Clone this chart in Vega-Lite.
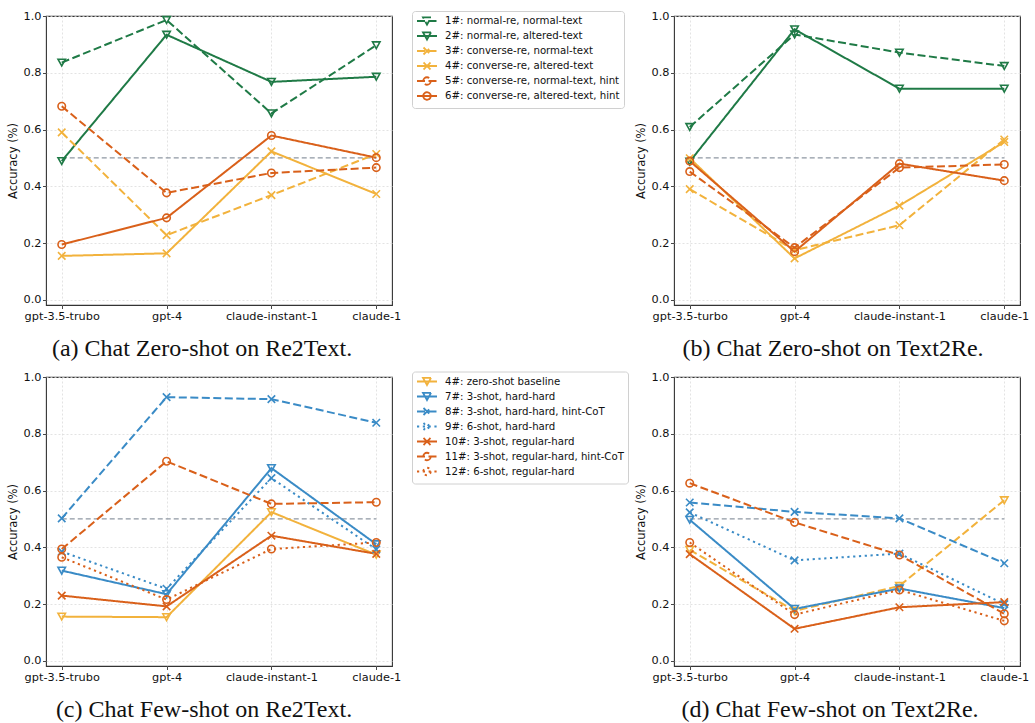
{
  "$schema": "https://vega.github.io/schema/vega-lite/v6.json",
  "padding": {"left": 6, "top": 9, "right": 5, "bottom": 5},
  "datasets": {
    "rows": [
      {"panel": "a", "model": "gpt-3.5-trubo", "series": "1#: normal-re, normal-text", "acc": 0.836},
      {"panel": "a", "model": "gpt-4", "series": "1#: normal-re, normal-text", "acc": 0.986},
      {"panel": "a", "model": "claude-instant-1", "series": "1#: normal-re, normal-text", "acc": 0.657},
      {"panel": "a", "model": "claude-1", "series": "1#: normal-re, normal-text", "acc": 0.897},
      {"panel": "a", "model": "gpt-3.5-trubo", "series": "2#: normal-re, altered-text", "acc": 0.489},
      {"panel": "a", "model": "gpt-4", "series": "2#: normal-re, altered-text", "acc": 0.934},
      {"panel": "a", "model": "claude-instant-1", "series": "2#: normal-re, altered-text", "acc": 0.768},
      {"panel": "a", "model": "claude-1", "series": "2#: normal-re, altered-text", "acc": 0.786},
      {"panel": "a", "model": "gpt-3.5-trubo", "series": "3#: converse-re, normal-text", "acc": 0.590},
      {"panel": "a", "model": "gpt-4", "series": "3#: converse-re, normal-text", "acc": 0.228},
      {"panel": "a", "model": "claude-instant-1", "series": "3#: converse-re, normal-text", "acc": 0.369},
      {"panel": "a", "model": "claude-1", "series": "3#: converse-re, normal-text", "acc": 0.514},
      {"panel": "a", "model": "gpt-3.5-trubo", "series": "4#: converse-re, altered-text", "acc": 0.155},
      {"panel": "a", "model": "gpt-4", "series": "4#: converse-re, altered-text", "acc": 0.164},
      {"panel": "a", "model": "claude-instant-1", "series": "4#: converse-re, altered-text", "acc": 0.523},
      {"panel": "a", "model": "claude-1", "series": "4#: converse-re, altered-text", "acc": 0.373},
      {"panel": "a", "model": "gpt-3.5-trubo", "series": "5#: converse-re, normal-text, hint", "acc": 0.682},
      {"panel": "a", "model": "gpt-4", "series": "5#: converse-re, normal-text, hint", "acc": 0.377},
      {"panel": "a", "model": "claude-instant-1", "series": "5#: converse-re, normal-text, hint", "acc": 0.447},
      {"panel": "a", "model": "claude-1", "series": "5#: converse-re, normal-text, hint", "acc": 0.466},
      {"panel": "a", "model": "gpt-3.5-trubo", "series": "6#: converse-re, altered-text, hint", "acc": 0.195},
      {"panel": "a", "model": "gpt-4", "series": "6#: converse-re, altered-text, hint", "acc": 0.289},
      {"panel": "a", "model": "claude-instant-1", "series": "6#: converse-re, altered-text, hint", "acc": 0.579},
      {"panel": "a", "model": "claude-1", "series": "6#: converse-re, altered-text, hint", "acc": 0.501},

      {"panel": "b", "model": "gpt-3.5-turbo", "series": "1#: normal-re, normal-text", "acc": 0.609},
      {"panel": "b", "model": "gpt-4", "series": "1#: normal-re, normal-text", "acc": 0.935},
      {"panel": "b", "model": "claude-instant-1", "series": "1#: normal-re, normal-text", "acc": 0.871},
      {"panel": "b", "model": "claude-1", "series": "1#: normal-re, normal-text", "acc": 0.824},
      {"panel": "b", "model": "gpt-3.5-turbo", "series": "2#: normal-re, altered-text", "acc": 0.487},
      {"panel": "b", "model": "gpt-4", "series": "2#: normal-re, altered-text", "acc": 0.953},
      {"panel": "b", "model": "claude-instant-1", "series": "2#: normal-re, altered-text", "acc": 0.744},
      {"panel": "b", "model": "claude-1", "series": "2#: normal-re, altered-text", "acc": 0.744},
      {"panel": "b", "model": "gpt-3.5-turbo", "series": "3#: converse-re, normal-text", "acc": 0.390},
      {"panel": "b", "model": "gpt-4", "series": "3#: converse-re, normal-text", "acc": 0.175},
      {"panel": "b", "model": "claude-instant-1", "series": "3#: converse-re, normal-text", "acc": 0.263},
      {"panel": "b", "model": "claude-1", "series": "3#: converse-re, normal-text", "acc": 0.565},
      {"panel": "b", "model": "gpt-3.5-turbo", "series": "4#: converse-re, altered-text", "acc": 0.499},
      {"panel": "b", "model": "gpt-4", "series": "4#: converse-re, altered-text", "acc": 0.146},
      {"panel": "b", "model": "claude-instant-1", "series": "4#: converse-re, altered-text", "acc": 0.332},
      {"panel": "b", "model": "claude-1", "series": "4#: converse-re, altered-text", "acc": 0.556},
      {"panel": "b", "model": "gpt-3.5-turbo", "series": "5#: converse-re, normal-text, hint", "acc": 0.452},
      {"panel": "b", "model": "gpt-4", "series": "5#: converse-re, normal-text, hint", "acc": 0.184},
      {"panel": "b", "model": "claude-instant-1", "series": "5#: converse-re, normal-text, hint", "acc": 0.466},
      {"panel": "b", "model": "claude-1", "series": "5#: converse-re, normal-text, hint", "acc": 0.477},
      {"panel": "b", "model": "gpt-3.5-turbo", "series": "6#: converse-re, altered-text, hint", "acc": 0.489},
      {"panel": "b", "model": "gpt-4", "series": "6#: converse-re, altered-text, hint", "acc": 0.170},
      {"panel": "b", "model": "claude-instant-1", "series": "6#: converse-re, altered-text, hint", "acc": 0.480},
      {"panel": "b", "model": "claude-1", "series": "6#: converse-re, altered-text, hint", "acc": 0.420},

      {"panel": "c", "model": "gpt-3.5-trubo", "series": "4#: zero-shot baseline", "acc": 0.156},
      {"panel": "c", "model": "gpt-4", "series": "4#: zero-shot baseline", "acc": 0.154},
      {"panel": "c", "model": "claude-instant-1", "series": "4#: zero-shot baseline", "acc": 0.524},
      {"panel": "c", "model": "claude-1", "series": "4#: zero-shot baseline", "acc": 0.374},
      {"panel": "c", "model": "gpt-3.5-trubo", "series": "7#: 3-shot, hard-hard", "acc": 0.318},
      {"panel": "c", "model": "gpt-4", "series": "7#: 3-shot, hard-hard", "acc": 0.235},
      {"panel": "c", "model": "claude-instant-1", "series": "7#: 3-shot, hard-hard", "acc": 0.679},
      {"panel": "c", "model": "claude-1", "series": "7#: 3-shot, hard-hard", "acc": 0.411},
      {"panel": "c", "model": "gpt-3.5-trubo", "series": "8#: 3-shot, hard-hard, hint-CoT", "acc": 0.502},
      {"panel": "c", "model": "gpt-4", "series": "8#: 3-shot, hard-hard, hint-CoT", "acc": 0.929},
      {"panel": "c", "model": "claude-instant-1", "series": "8#: 3-shot, hard-hard, hint-CoT", "acc": 0.922},
      {"panel": "c", "model": "claude-1", "series": "8#: 3-shot, hard-hard, hint-CoT", "acc": 0.839},
      {"panel": "c", "model": "gpt-3.5-trubo", "series": "9#: 6-shot, hard-hard", "acc": 0.385},
      {"panel": "c", "model": "gpt-4", "series": "9#: 6-shot, hard-hard", "acc": 0.254},
      {"panel": "c", "model": "claude-instant-1", "series": "9#: 6-shot, hard-hard", "acc": 0.644},
      {"panel": "c", "model": "claude-1", "series": "9#: 6-shot, hard-hard", "acc": 0.393},
      {"panel": "c", "model": "gpt-3.5-trubo", "series": "10#: 3-shot, regular-hard", "acc": 0.230},
      {"panel": "c", "model": "gpt-4", "series": "10#: 3-shot, regular-hard", "acc": 0.192},
      {"panel": "c", "model": "claude-instant-1", "series": "10#: 3-shot, regular-hard", "acc": 0.441},
      {"panel": "c", "model": "claude-1", "series": "10#: 3-shot, regular-hard", "acc": 0.377},
      {"panel": "c", "model": "gpt-3.5-trubo", "series": "11#: 3-shot, regular-hard, hint-CoT", "acc": 0.394},
      {"panel": "c", "model": "gpt-4", "series": "11#: 3-shot, regular-hard, hint-CoT", "acc": 0.703},
      {"panel": "c", "model": "claude-instant-1", "series": "11#: 3-shot, regular-hard, hint-CoT", "acc": 0.553},
      {"panel": "c", "model": "claude-1", "series": "11#: 3-shot, regular-hard, hint-CoT", "acc": 0.559},
      {"panel": "c", "model": "gpt-3.5-trubo", "series": "12#: 6-shot, regular-hard", "acc": 0.365},
      {"panel": "c", "model": "gpt-4", "series": "12#: 6-shot, regular-hard", "acc": 0.216},
      {"panel": "c", "model": "claude-instant-1", "series": "12#: 6-shot, regular-hard", "acc": 0.394},
      {"panel": "c", "model": "claude-1", "series": "12#: 6-shot, regular-hard", "acc": 0.417},

      {"panel": "d", "model": "gpt-3.5-turbo", "series": "4#: zero-shot baseline", "acc": 0.391},
      {"panel": "d", "model": "gpt-4", "series": "4#: zero-shot baseline", "acc": 0.176},
      {"panel": "d", "model": "claude-instant-1", "series": "4#: zero-shot baseline", "acc": 0.264},
      {"panel": "d", "model": "claude-1", "series": "4#: zero-shot baseline", "acc": 0.566},
      {"panel": "d", "model": "gpt-3.5-turbo", "series": "7#: 3-shot, hard-hard", "acc": 0.497},
      {"panel": "d", "model": "gpt-4", "series": "7#: 3-shot, hard-hard", "acc": 0.183},
      {"panel": "d", "model": "claude-instant-1", "series": "7#: 3-shot, hard-hard", "acc": 0.255},
      {"panel": "d", "model": "claude-1", "series": "7#: 3-shot, hard-hard", "acc": 0.186},
      {"panel": "d", "model": "gpt-3.5-turbo", "series": "8#: 3-shot, hard-hard, hint-CoT", "acc": 0.558},
      {"panel": "d", "model": "gpt-4", "series": "8#: 3-shot, hard-hard, hint-CoT", "acc": 0.525},
      {"panel": "d", "model": "claude-instant-1", "series": "8#: 3-shot, hard-hard, hint-CoT", "acc": 0.502},
      {"panel": "d", "model": "claude-1", "series": "8#: 3-shot, hard-hard, hint-CoT", "acc": 0.344},
      {"panel": "d", "model": "gpt-3.5-turbo", "series": "9#: 6-shot, hard-hard", "acc": 0.523},
      {"panel": "d", "model": "gpt-4", "series": "9#: 6-shot, hard-hard", "acc": 0.354},
      {"panel": "d", "model": "claude-instant-1", "series": "9#: 6-shot, hard-hard", "acc": 0.378},
      {"panel": "d", "model": "claude-1", "series": "9#: 6-shot, hard-hard", "acc": 0.200},
      {"panel": "d", "model": "gpt-3.5-turbo", "series": "10#: 3-shot, regular-hard", "acc": 0.376},
      {"panel": "d", "model": "gpt-4", "series": "10#: 3-shot, regular-hard", "acc": 0.113},
      {"panel": "d", "model": "claude-instant-1", "series": "10#: 3-shot, regular-hard", "acc": 0.189},
      {"panel": "d", "model": "claude-1", "series": "10#: 3-shot, regular-hard", "acc": 0.207},
      {"panel": "d", "model": "gpt-3.5-turbo", "series": "11#: 3-shot, regular-hard, hint-CoT", "acc": 0.626},
      {"panel": "d", "model": "gpt-4", "series": "11#: 3-shot, regular-hard, hint-CoT", "acc": 0.488},
      {"panel": "d", "model": "claude-instant-1", "series": "11#: 3-shot, regular-hard, hint-CoT", "acc": 0.373},
      {"panel": "d", "model": "claude-1", "series": "11#: 3-shot, regular-hard, hint-CoT", "acc": 0.166},
      {"panel": "d", "model": "gpt-3.5-turbo", "series": "12#: 6-shot, regular-hard", "acc": 0.417},
      {"panel": "d", "model": "gpt-4", "series": "12#: 6-shot, regular-hard", "acc": 0.163},
      {"panel": "d", "model": "claude-instant-1", "series": "12#: 6-shot, regular-hard", "acc": 0.250},
      {"panel": "d", "model": "claude-1", "series": "12#: 6-shot, regular-hard", "acc": 0.141}
    ]
  },
  "columns": 2,
  "spacing": {"row": 72, "column": 282},
  "bounds": "flush",
  "resolve": {
    "scale": {"x": "independent", "y": "independent", "color": "independent", "stroke": "independent", "strokeDash": "independent", "shape": "independent"},
    "legend": {"color": "independent", "stroke": "independent", "strokeDash": "independent", "shape": "independent"}
  },
  "concat": [
    {
      "width": 346, "height": 289,
      "title": {"text": "(a) Chat Zero-shot on Re2Text.", "dx": -17},
      "data": {"name": "rows"},
      "encoding": {
        "x": {"field": "model", "type": "ordinal", "sort": null, "scale": {"type": "point", "padding": 0.15, "domain": ["gpt-3.5-trubo", "gpt-4", "claude-instant-1", "claude-1"]}, "axis": {"title": null}},
        "y": {"field": "acc", "type": "quantitative", "scale": {"domain": [-0.018, 1.0], "nice": false, "zero": false}, "axis": {"title": "Accuracy (%)", "values": [0, 0.2, 0.4, 0.6, 0.8, 1.0], "format": ".1f"}}
      },
      "layer": [
        {"data": {"values": [{"ref": 0.5}]}, "mark": {"type": "rule", "color": "#8f98a3", "strokeDash": [5, 3], "strokeWidth": 1.2},
         "encoding": {"x": {"datum": "gpt-3.5-trubo"}, "x2": {"datum": "claude-1"}, "y": {"field": "ref", "type": "quantitative", "axis": {"title": "Accuracy (%)", "values": [0, 0.2, 0.4, 0.6, 0.8, 1.0], "format": ".1f"}}}},
        {"transform": [{"filter": "datum.panel === 'a'"}], "mark": {"type": "line", "strokeWidth": 2},
         "encoding": {
           "color": {"field": "series", "type": "nominal",
             "scale": {"domain": ["1#: normal-re, normal-text", "2#: normal-re, altered-text", "3#: converse-re, normal-text", "4#: converse-re, altered-text", "5#: converse-re, normal-text, hint", "6#: converse-re, altered-text, hint"],
                       "range": ["#1f7a46", "#1f7a46", "#f2b23c", "#f2b23c", "#d9601a", "#d9601a"]},
             "legend": {"orient": "none", "legendX": 366, "legendY": -5, "title": null, "symbolSize": 100, "rowPadding": -1,
               "encode": {"symbols": {"update": {"fill": {"value": "transparent"}, "shape": {"signal": "test(regexp('^(1|2|7)#|zero-shot'), datum.value) ? 'M-1,0H3M0.2,-0.72H1.8L1,0.72Z' : test(regexp('^(3|4|8|9|10)#'), datum.value) ? 'M-1,0H3M0.3,-0.7L1.7,0.7M0.3,0.7L1.7,-0.7' : 'M-1,0H3M1.75,0A0.75,0.75,0,1,1,0.25,0A0.75,0.75,0,1,1,1.75,0Z'"}}}}}},
           "strokeDash": {"field": "series", "type": "nominal",
             "scale": {"domain": ["1#: normal-re, normal-text", "2#: normal-re, altered-text", "3#: converse-re, normal-text", "4#: converse-re, altered-text", "5#: converse-re, normal-text, hint", "6#: converse-re, altered-text, hint"],
                       "range": [[8, 3.5], [1, 0], [8, 3.5], [1, 0], [8, 3.5], [1, 0]]},
             "legend": {"orient": "none", "legendX": 366, "legendY": -5, "title": null, "symbolSize": 100, "rowPadding": -1,
               "encode": {"symbols": {"update": {"fill": {"value": "transparent"}, "shape": {"signal": "test(regexp('^(1|2|7)#|zero-shot'), datum.value) ? 'M-1,0H3M0.2,-0.72H1.8L1,0.72Z' : test(regexp('^(3|4|8|9|10)#'), datum.value) ? 'M-1,0H3M0.3,-0.7L1.7,0.7M0.3,0.7L1.7,-0.7' : 'M-1,0H3M1.75,0A0.75,0.75,0,1,1,0.25,0A0.75,0.75,0,1,1,1.75,0Z'"}}}}}}
         }},
        {"transform": [{"filter": "datum.panel === 'a'"}], "mark": {"type": "point", "filled": false, "size": 56, "strokeWidth": 1.6, "opacity": 1},
         "encoding": {
           "stroke": {"field": "series", "type": "nominal", "legend": null,
             "scale": {"domain": ["6#: converse-re, altered-text, hint", "5#: converse-re, normal-text, hint", "4#: converse-re, altered-text", "3#: converse-re, normal-text", "2#: normal-re, altered-text", "1#: normal-re, normal-text"],
                       "range": ["#d9601a", "#d9601a", "#f2b23c", "#f2b23c", "#1f7a46", "#1f7a46"]}},
           "shape": {"field": "series", "type": "nominal", "legend": null,
             "scale": {"domain": ["6#: converse-re, altered-text, hint", "5#: converse-re, normal-text, hint", "4#: converse-re, altered-text", "3#: converse-re, normal-text", "2#: normal-re, altered-text", "1#: normal-re, normal-text"],
                       "range": ["M1,0A1,1,0,1,1,-1,0A1,1,0,1,1,1,0Z", "M1,0A1,1,0,1,1,-1,0A1,1,0,1,1,1,0Z", "M-1,-1L1,1M-1,1L1,-1", "M-1,-1L1,1M-1,1L1,-1", "M-1,-0.9L1,-0.9L0,0.9Z", "M-1,-0.9L1,-0.9L0,0.9Z"]}}
         }}
      ]
    },
    {
      "width": 346, "height": 289,
      "title": {"text": "(b) Chat Zero-shot on Text2Re.", "dx": -14},
      "data": {"name": "rows"},
      "encoding": {
        "x": {"field": "model", "type": "ordinal", "sort": null, "scale": {"type": "point", "padding": 0.15, "domain": ["gpt-3.5-turbo", "gpt-4", "claude-instant-1", "claude-1"]}, "axis": {"title": null}},
        "y": {"field": "acc", "type": "quantitative", "scale": {"domain": [-0.018, 1.0], "nice": false, "zero": false}, "axis": {"title": "Accuracy (%)", "values": [0, 0.2, 0.4, 0.6, 0.8, 1.0], "format": ".1f"}}
      },
      "layer": [
        {"data": {"values": [{"ref": 0.5}]}, "mark": {"type": "rule", "color": "#8f98a3", "strokeDash": [5, 3], "strokeWidth": 1.2},
         "encoding": {"x": {"datum": "gpt-3.5-turbo"}, "x2": {"datum": "claude-1"}, "y": {"field": "ref", "type": "quantitative", "axis": {"title": "Accuracy (%)", "values": [0, 0.2, 0.4, 0.6, 0.8, 1.0], "format": ".1f"}}}},
        {"transform": [{"filter": "datum.panel === 'b'"}], "mark": {"type": "line", "strokeWidth": 2},
         "encoding": {
           "color": {"field": "series", "type": "nominal", "legend": null,
             "scale": {"domain": ["1#: normal-re, normal-text", "2#: normal-re, altered-text", "3#: converse-re, normal-text", "4#: converse-re, altered-text", "5#: converse-re, normal-text, hint", "6#: converse-re, altered-text, hint"],
                       "range": ["#1f7a46", "#1f7a46", "#f2b23c", "#f2b23c", "#d9601a", "#d9601a"]}},
           "strokeDash": {"field": "series", "type": "nominal", "legend": null,
             "scale": {"domain": ["1#: normal-re, normal-text", "2#: normal-re, altered-text", "3#: converse-re, normal-text", "4#: converse-re, altered-text", "5#: converse-re, normal-text, hint", "6#: converse-re, altered-text, hint"],
                       "range": [[8, 3.5], [1, 0], [8, 3.5], [1, 0], [8, 3.5], [1, 0]]}}
         }},
        {"transform": [{"filter": "datum.panel === 'b'"}], "mark": {"type": "point", "filled": false, "size": 56, "strokeWidth": 1.6, "opacity": 1},
         "encoding": {
           "stroke": {"field": "series", "type": "nominal", "legend": null,
             "scale": {"domain": ["6#: converse-re, altered-text, hint", "5#: converse-re, normal-text, hint", "4#: converse-re, altered-text", "3#: converse-re, normal-text", "2#: normal-re, altered-text", "1#: normal-re, normal-text"],
                       "range": ["#d9601a", "#d9601a", "#f2b23c", "#f2b23c", "#1f7a46", "#1f7a46"]}},
           "shape": {"field": "series", "type": "nominal", "legend": null,
             "scale": {"domain": ["6#: converse-re, altered-text, hint", "5#: converse-re, normal-text, hint", "4#: converse-re, altered-text", "3#: converse-re, normal-text", "2#: normal-re, altered-text", "1#: normal-re, normal-text"],
                       "range": ["M1,0A1,1,0,1,1,-1,0A1,1,0,1,1,1,0Z", "M1,0A1,1,0,1,1,-1,0A1,1,0,1,1,1,0Z", "M-1,-1L1,1M-1,1L1,-1", "M-1,-1L1,1M-1,1L1,-1", "M-1,-0.9L1,-0.9L0,0.9Z", "M-1,-0.9L1,-0.9L0,0.9Z"]}}
         }}
      ]
    },
    {
      "width": 346, "height": 289,
      "title": {"text": "(c) Chat Few-shot on Re2Text.", "dx": -15},
      "data": {"name": "rows"},
      "encoding": {
        "x": {"field": "model", "type": "ordinal", "sort": null, "scale": {"type": "point", "padding": 0.15, "domain": ["gpt-3.5-trubo", "gpt-4", "claude-instant-1", "claude-1"]}, "axis": {"title": null}},
        "y": {"field": "acc", "type": "quantitative", "scale": {"domain": [-0.018, 1.0], "nice": false, "zero": false}, "axis": {"title": "Accuracy (%)", "values": [0, 0.2, 0.4, 0.6, 0.8, 1.0], "format": ".1f"}}
      },
      "layer": [
        {"data": {"values": [{"ref": 0.5}]}, "mark": {"type": "rule", "color": "#8f98a3", "strokeDash": [5, 3], "strokeWidth": 1.2},
         "encoding": {"x": {"datum": "gpt-3.5-trubo"}, "x2": {"datum": "claude-1"}, "y": {"field": "ref", "type": "quantitative", "axis": {"title": "Accuracy (%)", "values": [0, 0.2, 0.4, 0.6, 0.8, 1.0], "format": ".1f"}}}},
        {"transform": [{"filter": "datum.panel === 'c'"}], "mark": {"type": "line", "strokeWidth": 2},
         "encoding": {
           "color": {"field": "series", "type": "nominal",
             "scale": {"domain": ["4#: zero-shot baseline", "7#: 3-shot, hard-hard", "8#: 3-shot, hard-hard, hint-CoT", "9#: 6-shot, hard-hard", "10#: 3-shot, regular-hard", "11#: 3-shot, regular-hard, hint-CoT", "12#: 6-shot, regular-hard"],
                       "range": ["#f2b23c", "#3a8bc6", "#3a8bc6", "#3a8bc6", "#d9601a", "#d9601a", "#d9601a"]},
             "legend": {"orient": "none", "legendX": 366, "legendY": -5.5, "title": null, "symbolSize": 100, "rowPadding": -1,
               "encode": {"symbols": {"update": {"fill": {"value": "transparent"}, "shape": {"signal": "test(regexp('^(1|2|7)#|zero-shot'), datum.value) ? 'M-1,0H3M0.2,-0.72H1.8L1,0.72Z' : test(regexp('^(3|4|8|9|10)#'), datum.value) ? 'M-1,0H3M0.3,-0.7L1.7,0.7M0.3,0.7L1.7,-0.7' : 'M-1,0H3M1.75,0A0.75,0.75,0,1,1,0.25,0A0.75,0.75,0,1,1,1.75,0Z'"}}}}}},
           "strokeDash": {"field": "series", "type": "nominal",
             "scale": {"domain": ["4#: zero-shot baseline", "7#: 3-shot, hard-hard", "8#: 3-shot, hard-hard, hint-CoT", "9#: 6-shot, hard-hard", "10#: 3-shot, regular-hard", "11#: 3-shot, regular-hard, hint-CoT", "12#: 6-shot, regular-hard"],
                       "range": [[1, 0], [1, 0], [8, 3.5], [2.2, 3.6], [1, 0], [8, 3.5], [2.2, 3.6]]},
             "legend": {"orient": "none", "legendX": 366, "legendY": -5.5, "title": null, "symbolSize": 100, "rowPadding": -1,
               "encode": {"symbols": {"update": {"fill": {"value": "transparent"}, "shape": {"signal": "test(regexp('^(1|2|7)#|zero-shot'), datum.value) ? 'M-1,0H3M0.2,-0.72H1.8L1,0.72Z' : test(regexp('^(3|4|8|9|10)#'), datum.value) ? 'M-1,0H3M0.3,-0.7L1.7,0.7M0.3,0.7L1.7,-0.7' : 'M-1,0H3M1.75,0A0.75,0.75,0,1,1,0.25,0A0.75,0.75,0,1,1,1.75,0Z'"}}}}}}
         }},
        {"transform": [{"filter": "datum.panel === 'c'"}], "mark": {"type": "point", "filled": false, "size": 56, "strokeWidth": 1.6, "opacity": 1},
         "encoding": {
           "stroke": {"field": "series", "type": "nominal", "legend": null,
             "scale": {"domain": ["12#: 6-shot, regular-hard", "11#: 3-shot, regular-hard, hint-CoT", "10#: 3-shot, regular-hard", "9#: 6-shot, hard-hard", "8#: 3-shot, hard-hard, hint-CoT", "7#: 3-shot, hard-hard", "4#: zero-shot baseline"],
                       "range": ["#d9601a", "#d9601a", "#d9601a", "#3a8bc6", "#3a8bc6", "#3a8bc6", "#f2b23c"]}},
           "shape": {"field": "series", "type": "nominal", "legend": null,
             "scale": {"domain": ["12#: 6-shot, regular-hard", "11#: 3-shot, regular-hard, hint-CoT", "10#: 3-shot, regular-hard", "9#: 6-shot, hard-hard", "8#: 3-shot, hard-hard, hint-CoT", "7#: 3-shot, hard-hard", "4#: zero-shot baseline"],
                       "range": ["M1,0A1,1,0,1,1,-1,0A1,1,0,1,1,1,0Z", "M1,0A1,1,0,1,1,-1,0A1,1,0,1,1,1,0Z", "M-1,-1L1,1M-1,1L1,-1", "M-1,-1L1,1M-1,1L1,-1", "M-1,-1L1,1M-1,1L1,-1", "M-1,-0.9L1,-0.9L0,0.9Z", "M-1,-0.9L1,-0.9L0,0.9Z"]}}
         }}
      ]
    },
    {
      "width": 346, "height": 289,
      "title": {"text": "(d) Chat Few-shot on Text2Re.", "dx": -17},
      "data": {"name": "rows"},
      "encoding": {
        "x": {"field": "model", "type": "ordinal", "sort": null, "scale": {"type": "point", "padding": 0.15, "domain": ["gpt-3.5-turbo", "gpt-4", "claude-instant-1", "claude-1"]}, "axis": {"title": null}},
        "y": {"field": "acc", "type": "quantitative", "scale": {"domain": [-0.018, 1.0], "nice": false, "zero": false}, "axis": {"title": "Accuracy (%)", "values": [0, 0.2, 0.4, 0.6, 0.8, 1.0], "format": ".1f"}}
      },
      "layer": [
        {"data": {"values": [{"ref": 0.5}]}, "mark": {"type": "rule", "color": "#8f98a3", "strokeDash": [5, 3], "strokeWidth": 1.2},
         "encoding": {"x": {"datum": "gpt-3.5-turbo"}, "x2": {"datum": "claude-1"}, "y": {"field": "ref", "type": "quantitative", "axis": {"title": "Accuracy (%)", "values": [0, 0.2, 0.4, 0.6, 0.8, 1.0], "format": ".1f"}}}},
        {"transform": [{"filter": "datum.panel === 'd'"}], "mark": {"type": "line", "strokeWidth": 2},
         "encoding": {
           "color": {"field": "series", "type": "nominal", "legend": null,
             "scale": {"domain": ["4#: zero-shot baseline", "7#: 3-shot, hard-hard", "8#: 3-shot, hard-hard, hint-CoT", "9#: 6-shot, hard-hard", "10#: 3-shot, regular-hard", "11#: 3-shot, regular-hard, hint-CoT", "12#: 6-shot, regular-hard"],
                       "range": ["#f2b23c", "#3a8bc6", "#3a8bc6", "#3a8bc6", "#d9601a", "#d9601a", "#d9601a"]}},
           "strokeDash": {"field": "series", "type": "nominal", "legend": null,
             "scale": {"domain": ["4#: zero-shot baseline", "7#: 3-shot, hard-hard", "8#: 3-shot, hard-hard, hint-CoT", "9#: 6-shot, hard-hard", "10#: 3-shot, regular-hard", "11#: 3-shot, regular-hard, hint-CoT", "12#: 6-shot, regular-hard"],
                       "range": [[8, 3.5], [1, 0], [8, 3.5], [2.2, 3.6], [1, 0], [8, 3.5], [2.2, 3.6]]}}
         }},
        {"transform": [{"filter": "datum.panel === 'd'"}], "mark": {"type": "point", "filled": false, "size": 56, "strokeWidth": 1.6, "opacity": 1},
         "encoding": {
           "stroke": {"field": "series", "type": "nominal", "legend": null,
             "scale": {"domain": ["12#: 6-shot, regular-hard", "11#: 3-shot, regular-hard, hint-CoT", "10#: 3-shot, regular-hard", "9#: 6-shot, hard-hard", "8#: 3-shot, hard-hard, hint-CoT", "7#: 3-shot, hard-hard", "4#: zero-shot baseline"],
                       "range": ["#d9601a", "#d9601a", "#d9601a", "#3a8bc6", "#3a8bc6", "#3a8bc6", "#f2b23c"]}},
           "shape": {"field": "series", "type": "nominal", "legend": null,
             "scale": {"domain": ["12#: 6-shot, regular-hard", "11#: 3-shot, regular-hard, hint-CoT", "10#: 3-shot, regular-hard", "9#: 6-shot, hard-hard", "8#: 3-shot, hard-hard, hint-CoT", "7#: 3-shot, hard-hard", "4#: zero-shot baseline"],
                       "range": ["M1,0A1,1,0,1,1,-1,0A1,1,0,1,1,1,0Z", "M1,0A1,1,0,1,1,-1,0A1,1,0,1,1,1,0Z", "M-1,-1L1,1M-1,1L1,-1", "M-1,-1L1,1M-1,1L1,-1", "M-1,-1L1,1M-1,1L1,-1", "M-1,-0.9L1,-0.9L0,0.9Z", "M-1,-0.9L1,-0.9L0,0.9Z"]}}
         }}
      ]
    }
  ],
  "config": {
    "background": "white",
    "font": "DejaVu Sans",
    "view": {"stroke": "#333333", "strokeWidth": 1.1},
    "axis": {
      "labelFont": "DejaVu Sans", "labelFontSize": 11.3, "labelColor": "#111111",
      "titleFont": "DejaVu Sans", "titleFontSize": 11.5, "titleFontWeight": "normal", "titleColor": "#111111",
      "domain": false, "ticks": true, "tickColor": "#333333", "tickSize": 3.5, "tickWidth": 0.9,
      "grid": true, "gridColor": "#dcdcdc", "gridDash": [2, 2], "gridWidth": 0.8, "labelPadding": 1.5
    },
    "axisX": {"labelAngle": 0, "labelOverlap": false},
    "axisY": {"titlePadding": 5},
    "legend": {
      "labelFont": "DejaVu Sans", "labelFontSize": 10.2, "labelColor": "#111111", "labelLimit": 300,
      "symbolSize": 100, "symbolStrokeWidth": 1.8, "labelOffset": 17, "rowPadding": -1, "padding": 4,
      "strokeColor": "#d0d0d0", "fillColor": "white", "cornerRadius": 3
    },
    "title": {"font": "Liberation Serif", "fontSize": 24, "fontWeight": "normal", "color": "#111111", "orient": "bottom", "offset": 16, "anchor": "middle", "frame": "group"}
  }
}
